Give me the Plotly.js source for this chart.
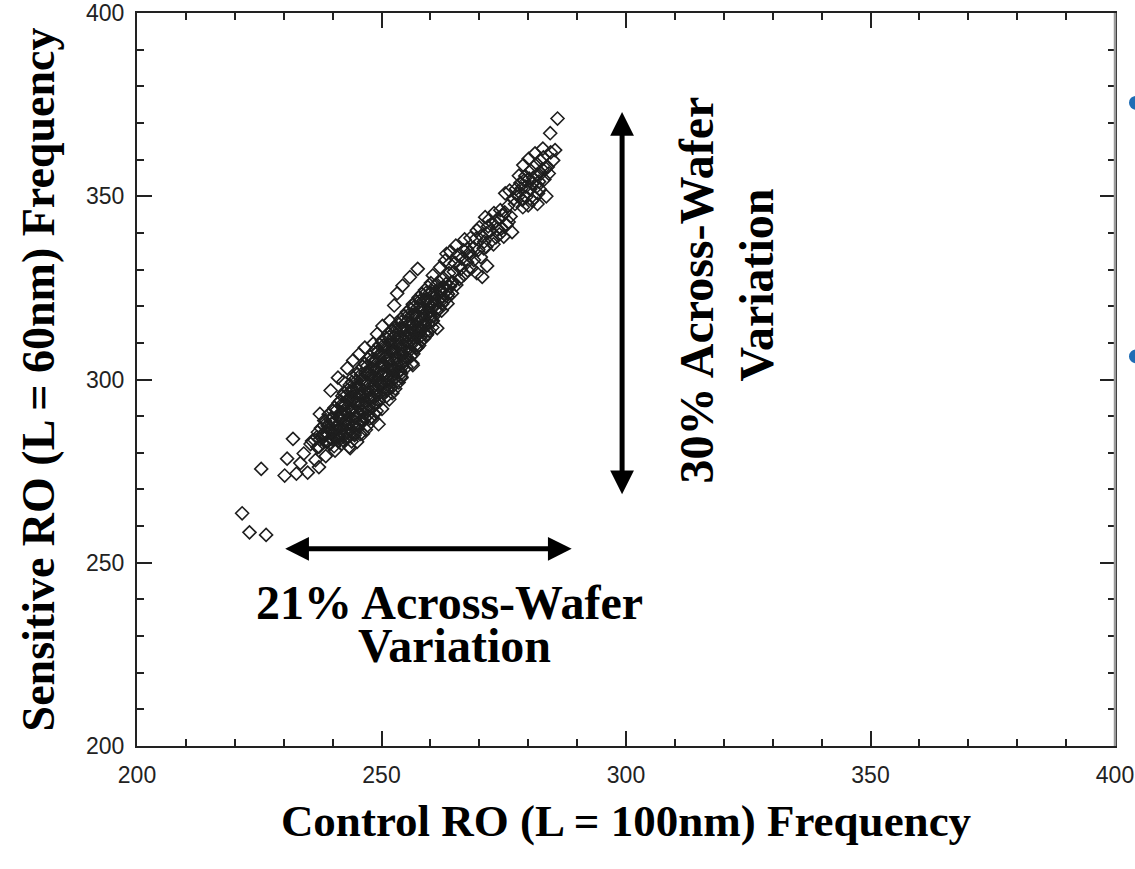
<!DOCTYPE html>
<html>
<head>
<meta charset="utf-8">
<script src="https://cdn.plot.ly/plotly-3.0.1.min.js"></script>
<style>html,body{margin:0;padding:0;background:#fff;}#chart{width:1135px;height:869px;}</style>
</head>
<body>
<div id="chart"></div>
<script>
// ---- Data ----
const xTickVals = [200, 250, 300, 350, 400];
const yTickVals = [200, 250, 300, 350, 400];
const xTickText = ["200", "250", "300", "350", "400"];
const yTickText = ["200", "250", "300", "350", "400"];

// lower-left outliers and tail
const tailX = [221.5, 223.0, 226.4, 225.4,
  230.2, 230.7, 231.9, 232.6, 233.4, 234.9, 235.8, 234.1, 236.5, 237.2,
  236.9, 238.0, 237.4, 238.6, 239.4, 240.5, 239.0, 238.3, 240.1, 241.2];
const tailY = [263.5, 258.3, 257.6, 275.6,
  273.8, 278.4, 283.8, 274.3, 277.2, 274.6, 283.2, 279.8, 278.0, 276.1,
  281.5, 284.9, 290.6, 279.1, 282.4, 280.6, 287.3, 288.8, 285.7, 284.0];

// dense core of the cloud
const coreX = [
  235.5, 237.2, 238.8, 240.3, 241.9, 243.6,
  236.3, 238.0, 239.6, 241.1, 242.7,
  236.8, 238.4, 239.9, 241.3, 242.8, 244.5,
  237.0, 238.9, 240.5, 242.2, 243.8, 245.6,
  237.6, 239.3, 240.7, 242.0, 243.4, 245.1, 246.8,
  238.2, 239.8, 241.4, 242.9, 244.3,
  238.5, 240.2, 241.8, 243.1, 244.6, 246.3,
  239.6, 241.3, 242.9, 244.6, 246.0, 247.6,
  239.2, 241.0, 242.7, 244.2, 245.5, 247.2, 248.6,
  240.1, 241.8, 243.5, 245.0, 246.5,
  240.4, 242.1, 243.8, 245.3, 246.7, 248.4,
  241.2, 242.7, 244.4, 246.0, 247.4, 249.0,
  241.6, 243.2, 244.9, 246.4, 247.8, 249.5,
  242.0, 243.7, 245.3, 246.9, 248.4, 250.1,
  242.3, 244.0, 245.6, 247.3, 248.9, 250.6, 252.2,
  243.1, 244.8, 246.4, 248.0, 249.6, 251.2,
  243.5, 245.3, 246.9, 248.4, 250.0, 251.7,
  244.0, 245.7, 247.3, 249.0, 250.5, 252.1, 253.5,
  244.2, 246.1, 247.7, 249.4, 251.0, 252.6, 254.1,
  245.0, 246.7, 248.3, 250.0, 251.5, 253.1,
  245.4, 247.3, 248.8, 250.5, 252.0, 253.8,
  246.2, 247.8, 249.5, 251.1, 252.6, 254.3,
  246.6, 248.3, 250.1, 251.6, 253.2, 254.7, 256.3,
  247.2, 248.9, 250.6, 252.2, 253.8, 255.4,
  247.7, 249.5, 251.1, 252.8, 254.3, 256.0,
  248.4, 250.1, 251.8, 253.3, 254.9, 256.5,
  248.9, 250.6, 252.3, 253.8, 255.4, 257.1,
  249.6, 251.2, 252.9, 254.4, 256.0, 257.7,
  250.1, 251.8, 253.4, 255.0, 256.6, 258.2,
  251.0, 252.5, 254.1, 255.7, 257.2, 258.7,
  251.4, 253.0, 254.6, 256.1, 257.7, 259.3,
  252.1, 253.7, 255.3, 256.8, 258.3, 259.8,
  252.7, 254.3, 255.8, 257.4, 258.9, 260.4,
  253.4, 255.0, 256.5, 258.0, 259.5,
  253.9, 255.5, 257.0, 258.5, 260.0,
  254.6, 256.2, 257.7, 259.2, 260.7,
  255.2, 256.8, 258.3, 259.8, 261.3,
  255.9, 257.4, 258.9, 260.4, 261.8,
  256.4, 258.0, 259.5, 261.0, 262.4,
  257.1, 258.6, 260.1, 261.6, 263.0,
  257.6, 259.2, 260.7, 262.2, 263.6,
  258.3, 259.9, 261.4, 262.8,
  258.9, 260.4, 261.9, 263.3,
  259.5, 261.1, 262.6, 264.0,
  260.1, 261.7, 263.2, 264.6];
const coreY = [
  282.4, 281.6, 282.9, 281.8, 282.5, 281.3,
  283.5, 282.8, 283.9, 283.2, 283.7,
  284.3, 284.9, 283.8, 284.6, 284.1, 284.8,
  285.6, 285.2, 285.9, 284.9, 285.5, 285.1,
  286.7, 286.2, 286.9, 286.4, 286.0, 286.6, 286.3,
  287.4, 287.9, 286.8, 287.5, 287.2,
  288.6, 288.2, 288.9, 287.8, 288.4, 288.7,
  289.3, 289.8, 289.1, 289.6, 289.0, 289.4,
  290.5, 290.1, 290.8, 290.3, 290.9, 290.2, 290.6,
  291.4, 291.0, 291.7, 291.2, 290.8,
  292.3, 292.8, 291.9, 292.5, 292.1, 292.7,
  293.6, 293.1, 293.8, 293.3, 292.9, 293.5,
  294.2, 294.7, 294.0, 294.5, 294.8, 294.1,
  295.5, 295.1, 295.8, 295.3, 294.9, 295.6,
  296.4, 296.9, 296.1, 296.6, 296.2, 296.8, 296.3,
  297.2, 297.7, 296.9, 297.4, 297.8, 297.1,
  298.5, 298.1, 298.7, 298.3, 298.9, 298.2,
  299.3, 299.8, 299.1, 299.5, 299.0, 299.7, 299.2,
  300.6, 300.2, 300.9, 300.4, 300.7, 300.1, 300.5,
  301.3, 301.8, 301.0, 301.5, 301.2, 301.7,
  302.4, 302.0, 302.7, 302.2, 302.8, 302.3,
  303.5, 303.1, 303.8, 303.3, 302.9, 303.6,
  304.3, 304.8, 304.1, 304.6, 304.2, 304.9, 304.4,
  305.6, 305.2, 305.9, 305.4, 305.1, 305.7,
  306.2, 306.7, 306.4, 306.0, 306.8, 306.3,
  307.5, 307.1, 307.8, 307.3, 307.6, 307.0,
  308.3, 308.8, 308.1, 308.6, 308.2, 308.7,
  309.4, 309.0, 309.7, 309.2, 309.8, 309.3,
  310.6, 310.2, 310.8, 310.4, 310.1, 310.7,
  311.3, 311.7, 311.1, 311.5, 311.8, 311.2,
  312.5, 312.1, 312.7, 312.3, 312.8, 312.2,
  313.2, 313.8, 313.4, 313.0, 313.6, 313.3,
  314.4, 314.1, 314.7, 314.3, 314.8, 314.2,
  315.3, 315.7, 315.1, 315.6, 315.2,
  316.5, 316.1, 316.7, 316.3, 316.8,
  317.2, 317.6, 317.0, 317.5, 317.3,
  318.4, 318.0, 318.6, 318.2, 318.7,
  319.3, 319.7, 319.1, 319.5, 319.2,
  320.5, 320.1, 320.7, 320.3, 320.6,
  321.2, 321.6, 321.0, 321.4, 321.7,
  322.4, 322.0, 322.6, 322.2, 322.5,
  323.3, 323.7, 323.1, 323.5,
  324.4, 324.0, 324.6, 324.2,
  325.2, 325.6, 325.0, 325.4,
  326.3, 326.7, 326.1, 326.5];

// second, interleaved layer of the dense core
const core2X = [
  237.4, 239.0, 240.6, 242.2, 243.9,
  238.1, 239.7, 241.3, 242.9, 244.5,
  239.0, 240.7, 242.3, 243.9, 245.5, 247.1,
  240.0, 241.7, 243.3, 245.0, 246.6,
  240.8, 242.5, 244.1, 245.8, 247.4, 249.0,
  242.0, 243.6, 245.2, 246.8, 248.5,
  242.8, 244.5, 246.1, 247.7, 249.3, 251.0,
  244.0, 245.6, 247.2, 248.8, 250.4, 252.0,
  244.9, 246.5, 248.1, 249.8, 251.4, 253.0,
  245.8, 247.5, 249.1, 250.8, 252.4, 254.0,
  247.0, 248.6, 250.3, 251.9, 253.5, 255.1,
  248.1, 249.7, 251.4, 253.0, 254.6,
  249.2, 250.8, 252.5, 254.1, 255.7,
  250.4, 252.0, 253.6, 255.2, 256.9,
  251.6, 253.2, 254.8, 256.4, 258.0,
  252.9, 254.5, 256.1, 257.7, 259.2,
  254.1, 255.7, 257.3, 258.8, 260.3,
  255.4, 257.0, 258.5, 260.0,
  256.6, 258.2, 259.7, 261.2,
  257.8, 259.4, 260.9, 262.4,
  259.1, 260.6, 262.1, 263.6];
const core2Y = [
  283.7, 283.2, 283.9, 283.4, 283.1,
  285.3, 285.8, 285.4, 285.7, 285.2,
  287.6, 287.2, 287.8, 287.3, 287.7, 287.4,
  289.4, 289.8, 289.2, 289.7, 289.5,
  291.6, 291.2, 291.8, 291.3, 291.7, 291.4,
  293.3, 293.7, 293.4, 293.8, 293.2,
  295.7, 295.3, 295.6, 295.2, 295.8, 295.4,
  297.4, 297.8, 297.3, 297.6, 297.2, 297.7,
  299.6, 299.2, 299.8, 299.3, 299.7, 299.4,
  301.3, 301.7, 301.4, 301.8, 301.2, 301.6,
  303.6, 303.2, 303.8, 303.3, 303.7, 303.4,
  305.4, 305.8, 305.3, 305.7, 305.2,
  307.7, 307.3, 307.6, 307.2, 307.8,
  309.3, 309.7, 309.4, 309.8, 309.2,
  311.6, 311.2, 311.7, 311.3, 311.8,
  313.4, 313.8, 313.3, 313.7, 313.2,
  315.7, 315.3, 315.6, 315.2, 315.8,
  317.4, 317.8, 317.3, 317.6,
  319.7, 319.3, 319.6, 319.2,
  321.4, 321.8, 321.3, 321.7,
  323.6, 323.2, 323.7, 323.3];

// scattered points on both edges of the core
const edgeX = [255.8, 253.2, 251.7, 248.3, 246.6, 244.2, 241.1, 239.6, 243.0, 250.2,
  252.6, 249.1, 245.4, 242.2, 254.3, 257.4,
  246.2, 248.3, 250.1, 252.8, 255.2, 257.3, 259.1, 260.5, 262.3, 264.4,
  243.4, 245.0, 251.6, 254.0, 256.4, 261.4, 263.5, 249.4];
const edgeY = [327.9, 323.5, 316.0, 309.8, 308.7, 305.2, 300.5, 297.0, 303.1, 314.6,
  320.2, 312.4, 306.9, 299.4, 325.6, 330.2,
  285.2, 289.3, 292.0, 297.5, 306.0, 308.7, 312.0, 316.0, 318.8, 323.5,
  281.6, 283.0, 294.6, 300.8, 303.9, 314.0, 320.7, 287.8];

// upper part of the cloud
const upperX = [263.3, 260.5, 262.0, 263.8, 265.0, 264.3, 265.9, 266.4, 267.5, 267.5,
  267.0, 268.4, 268.8, 269.5, 269.5, 270.6, 270.3, 271.0, 271.2, 271.6,
  272.2, 272.8, 273.4, 273.9, 274.5, 275.3, 275.2, 276.0, 276.7, 277.3,
  278.0, 278.4, 278.9, 279.4, 279.8, 280.0, 280.5, 280.9, 281.3, 281.4,
  281.8, 282.3, 282.4, 282.9, 283.3, 283.7, 284.0, 284.5, 284.6, 285.1,
  285.5, 286.0, 283.0, 279.0, 277.5,
  277.8, 278.6, 279.6, 280.4, 281.0, 281.7, 282.6, 279.2, 280.8, 278.1, 282.0, 283.6,
  270.4, 271.8, 272.6, 273.3, 274.1, 274.8, 275.6, 273.0, 271.4, 269.8,
  262.7, 263.9, 264.8, 265.6, 266.2, 266.9, 267.9, 262.2, 265.3, 268.2,
  263.0, 264.1, 265.2, 266.0, 266.8, 267.6, 268.0, 268.9, 269.3, 270.0,
  270.9, 271.5, 272.0, 272.9, 273.6, 274.3, 275.0, 275.9, 276.4, 277.0,
  276.2, 278.8, 279.5, 280.2, 281.5, 282.2, 283.1, 284.2, 281.9, 280.1];
const upperY = [334.3, 328.4, 330.6, 329.0, 331.8, 326.5, 327.4, 333.0, 332.0, 335.6,
  338.2, 330.4, 336.0, 340.7, 329.0, 328.0, 333.4, 337.6, 344.3, 331.0,
  340.4, 342.5, 338.8, 344.0, 341.2, 350.8, 345.6, 343.0, 340.2, 347.9,
  350.0, 353.6, 347.0, 355.5, 351.2, 347.5, 357.0, 353.4, 349.6, 361.7,
  355.8, 352.0, 359.8, 357.3, 354.6, 350.0, 358.0, 367.2, 362.0, 359.8,
  362.6, 371.2, 363.0, 358.5, 352.0,
  350.6, 352.1, 349.8, 351.9, 355.0, 352.6, 356.2, 354.3, 348.8, 355.6, 350.8, 357.6,
  339.2, 341.8, 338.0, 343.0, 339.6, 344.8, 342.2, 345.4, 336.2, 335.4,
  327.6, 331.6, 329.4, 334.0, 330.2, 328.6, 333.8, 324.4, 325.8, 338.6,
  332.4, 334.9, 336.5, 331.0, 335.2, 329.8, 334.6, 332.6, 338.4, 341.5,
  335.8, 339.9, 343.6, 336.9, 341.0, 346.2, 339.0, 347.4, 344.5, 349.2,
  351.5, 349.0, 352.6, 354.8, 358.4, 354.0, 360.6, 356.2, 347.9, 360.2];

// annotation arrows (data coordinates of the two tips)
const vArrowX = [299.2, 299.2];
const vArrowY = [373.0, 268.3];
const hArrowX = [230.3, 289.2];
const hArrowY = [253.8, 253.8];

const controlFreq = tailX.concat(coreX, core2X, edgeX, upperX);
const sensitiveFreq = tailY.concat(coreY, core2Y, edgeY, upperY);

// ---- Chart ----
const trace = {
  type: 'scatter',
  mode: 'markers',
  x: controlFreq,
  y: sensitiveFreq,
  marker: { symbol: 'diamond-open', size: 10, color: '#1e1e1e', line: { width: 1.6 } },
  hoverinfo: 'x+y'
};

const serifBold = { family: 'Liberation Serif, Times New Roman, serif', size: 48, color: '#000' };
const tickFont = { family: 'Liberation Sans, Arial, sans-serif', size: 23, color: '#222' };

function axis(vals, texts, titleText) {
  return {
    range: [200, 400],
    tickmode: 'array',
    tickvals: vals,
    ticktext: texts,
    ticks: 'inside',
    ticklen: 15,
    tickwidth: 1.5,
    tickcolor: '#222',
    minor: { tickmode: 'linear', tick0: 200, dtick: 10, ticks: 'inside', ticklen: 7, tickwidth: 1.5, tickcolor: '#222', showgrid: false },
    showline: true,
    linewidth: 2,
    linecolor: '#222',
    mirror: 'allticks',
    showgrid: false,
    zeroline: false,
    tickfont: tickFont,
    title: { text: '<b>' + titleText + '</b>', font: { family: serifBold.family, size: 45, color: '#000' } }
  };
}

const xaxis = axis(xTickVals, xTickText, 'Control RO (L = 100nm) Frequency');
xaxis.title.standoff = 18;
xaxis.ticklabelstandoff = 7;
const yaxis = axis(yTickVals, yTickText, 'Sensitive RO (L = 60nm) Frequency');
yaxis.title.standoff = 17;
yaxis.title.font.size = 46;
yaxis.ticklabelstandoff = 6;

function arrow(xs, ys) {
  return {
    x: xs[0], y: ys[0], ax: xs[1], ay: ys[1],
    xref: 'x', yref: 'y', axref: 'x', ayref: 'y',
    text: '', showarrow: true,
    arrowside: 'end+start',
    arrowhead: 2, startarrowhead: 2,
    arrowsize: 0.95, startarrowsize: 0.95,
    arrowwidth: 5, arrowcolor: '#000',
    standoff: 0, startstandoff: 0
  };
}

function label(text, x, y, angle) {
  return {
    x: x, y: y, xref: 'x', yref: 'y',
    text: '<b>' + text + '</b>', showarrow: false,
    textangle: angle, xanchor: 'center', yanchor: 'middle',
    font: serifBold
  };
}

const layout = {
  width: 1135,
  height: 869,
  margin: { l: 137, r: 20, t: 13, b: 123 },
  paper_bgcolor: '#fff',
  plot_bgcolor: '#fff',
  showlegend: false,
  xaxis: xaxis,
  yaxis: yaxis,
  annotations: [
    arrow(vArrowX, vArrowY),
    arrow(hArrowX, hArrowY),
    label('21% Across-Wafer', 263.9, 239.2, 0),
    label('Variation', 265.0, 227.4, 0),
    label('30% Across-Wafer', 314.5, 324.5, -90),
    label('Variation', 326.6, 325.7, -90)
  ],
  shapes: [
    { type: 'line', xref: 'paper', yref: 'paper', x0: 1, x1: 1, y0: 0, y1: 1, line: { color: '#9a9a9a', width: 2.5 } },
    { type: 'circle', xref: 'paper', yref: 'paper', x0: 1.0143, x1: 1.0286, y0: 0.868, y1: 0.887, fillcolor: '#1f6db5', line: { width: 0 } },
    { type: 'circle', xref: 'paper', yref: 'paper', x0: 1.0143, x1: 1.0286, y0: 0.522, y1: 0.541, fillcolor: '#1f6db5', line: { width: 0 } }
  ]
};

Plotly.newPlot('chart', [trace], layout, { displayModeBar: false, responsive: false });
</script>
</body>
</html>
